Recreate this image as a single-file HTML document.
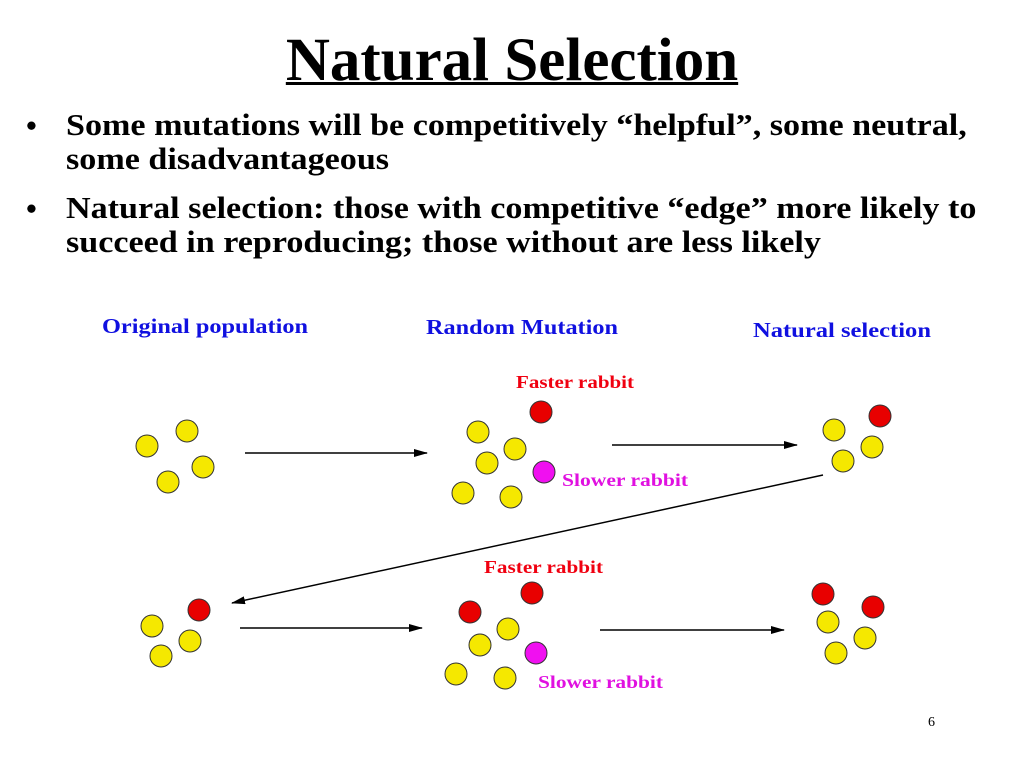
<!DOCTYPE html>
<html><head><meta charset="utf-8"><style>
body{margin:0;width:1024px;height:768px;background:#fff;overflow:hidden;position:relative;font-family:"Liberation Serif",serif}
.t{position:absolute;white-space:nowrap}
</style></head><body>
<div class="t" style="left:0;width:1024px;top:26px;text-align:center;font-size:61px;font-weight:bold;text-decoration:underline;text-decoration-thickness:3px">Natural Selection</div>
<div class="t" style="left:26px;top:109px;font-size:31px;font-weight:bold;line-height:34px">•</div>
<div class="t" style="left:66px;top:108px;font-size:31px;font-weight:bold;line-height:34px;transform:scaleX(1.1);transform-origin:0 0">Some mutations will be competitively “helpful”, some neutral,<br>some disadvantageous</div>
<div class="t" style="left:26px;top:192px;font-size:31px;font-weight:bold;line-height:34px">•</div>
<div class="t" style="left:66px;top:191px;font-size:31px;font-weight:bold;line-height:34px;transform:scaleX(1.1);transform-origin:0 0">Natural selection: those with competitive “edge” more likely to<br>succeed in reproducing; those without are less likely</div>
<svg width="1024" height="768" style="position:absolute;left:0;top:0" font-family="Liberation Serif" font-weight="bold">
<defs><marker id="a" markerWidth="14" markerHeight="8" refX="13" refY="4" orient="auto" markerUnits="userSpaceOnUse"><path d="M0,0L14,4L0,8z" fill="#000"/></marker></defs>
<g fill="#1010e0" font-size="21" lengthAdjust="spacingAndGlyphs">
<text x="102" y="333" textLength="206" lengthAdjust="spacingAndGlyphs">Original population</text>
<text x="426" y="334" textLength="192" lengthAdjust="spacingAndGlyphs">Random Mutation</text>
<text x="753" y="337" textLength="178" lengthAdjust="spacingAndGlyphs">Natural selection</text>
</g>
<g fill="#f00010" font-size="18">
<text x="516" y="388" textLength="118" lengthAdjust="spacingAndGlyphs">Faster rabbit</text>
<text x="484" y="573" textLength="119" lengthAdjust="spacingAndGlyphs">Faster rabbit</text>
</g>
<g fill="#e010e0" font-size="18">
<text x="562" y="486" textLength="126" lengthAdjust="spacingAndGlyphs">Slower rabbit</text>
<text x="538" y="688" textLength="125" lengthAdjust="spacingAndGlyphs">Slower rabbit</text>
</g>
<text x="928" y="726" font-size="14" font-weight="normal" fill="#000">6</text>
<g stroke="#000" stroke-width="1.5" marker-end="url(#a)">
<line x1="245" y1="453" x2="427" y2="453"/>
<line x1="612" y1="445" x2="797" y2="445"/>
<line x1="823" y1="475" x2="232" y2="603"/>
<line x1="240" y1="628" x2="422" y2="628"/>
<line x1="600" y1="630" x2="784" y2="630"/>
</g>
<g stroke="#333" stroke-width="1">
<g fill="#f5e800">
<circle cx="147" cy="446" r="11"/><circle cx="187" cy="431" r="11"/><circle cx="203" cy="467" r="11"/><circle cx="168" cy="482" r="11"/>
<circle cx="478" cy="432" r="11"/><circle cx="515" cy="449" r="11"/><circle cx="487" cy="463" r="11"/><circle cx="463" cy="493" r="11"/><circle cx="511" cy="497" r="11"/>
<circle cx="834" cy="430" r="11"/><circle cx="872" cy="447" r="11"/><circle cx="843" cy="461" r="11"/>
<circle cx="152" cy="626" r="11"/><circle cx="190" cy="641" r="11"/><circle cx="161" cy="656" r="11"/>
<circle cx="508" cy="629" r="11"/><circle cx="480" cy="645" r="11"/><circle cx="456" cy="674" r="11"/><circle cx="505" cy="678" r="11"/>
<circle cx="828" cy="622" r="11"/><circle cx="865" cy="638" r="11"/><circle cx="836" cy="653" r="11"/>
</g>
<g fill="#e80000">
<circle cx="541" cy="412" r="11"/><circle cx="880" cy="416" r="11"/><circle cx="199" cy="610" r="11"/>
<circle cx="532" cy="593" r="11"/><circle cx="470" cy="612" r="11"/><circle cx="823" cy="594" r="11"/><circle cx="873" cy="607" r="11"/>
</g>
<g fill="#f010f0"><circle cx="544" cy="472" r="11"/><circle cx="536" cy="653" r="11"/></g>
</g>
</svg>
</body></html>
